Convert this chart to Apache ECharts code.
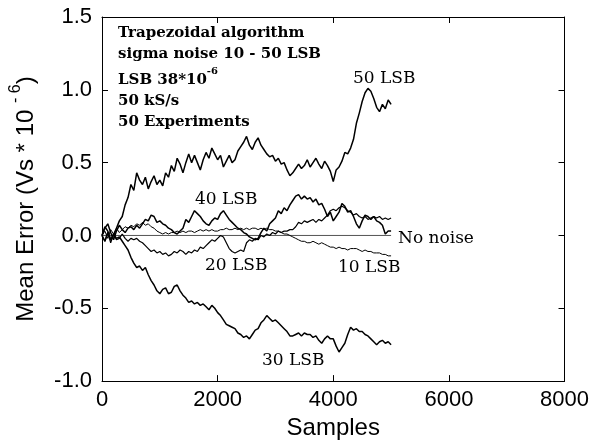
<!DOCTYPE html>
<html><head><meta charset="utf-8">
<script src="https://cdn.jsdelivr.net/npm/echarts@6/dist/echarts.min.js"></script>
<style>html,body{margin:0;padding:0;background:#fff}#c{width:592px;height:445px}</style>
</head><body><div id="c"></div>
<script>
const xTicks = [0, 2000, 4000, 6000, 8000];
const yTicks = [-1.0, -0.5, 0.0, 0.5, 1.0, 1.5];
// sample positions (every 50 samples, 0..5000)
const samples = Array.from({length: 101}, (_, i) => i * 50);

const lsb50 = [0.00,0.06,0.03,-0.03,0.00,0.05,0.10,0.13,0.21,0.26,
0.35,0.31,0.43,0.38,0.35,0.40,0.32,0.37,0.41,0.35,
0.38,0.34,0.43,0.40,0.48,0.44,0.53,0.49,0.43,0.50,
0.56,0.50,0.55,0.50,0.45,0.52,0.57,0.53,0.60,0.56,
0.52,0.55,0.47,0.51,0.55,0.50,0.52,0.58,0.61,0.64,
0.68,0.62,0.59,0.64,0.67,0.62,0.59,0.56,0.54,0.55,
0.51,0.53,0.49,0.50,0.45,0.41,0.43,0.46,0.49,0.46,
0.48,0.52,0.47,0.50,0.53,0.49,0.46,0.51,0.48,0.44,
0.37,0.45,0.47,0.51,0.57,0.56,0.60,0.66,0.77,0.84,
0.92,0.98,1.01,0.99,0.94,0.88,0.85,0.90,0.87,0.93,
0.90];

const lsb40 = [0.00,0.05,0.08,0.02,-0.03,0.03,0.07,0.04,0.02,0.05,
0.06,0.04,0.07,0.05,0.08,0.11,0.10,0.14,0.13,0.09,
0.10,0.08,0.07,0.05,0.04,0.02,0.01,0.03,0.05,0.11,
0.09,0.13,0.17,0.15,0.13,0.10,0.08,0.07,0.10,0.12,
0.11,0.15,0.17,0.14,0.11,0.09,0.07,0.05,0.04,0.02,
0.01,-0.01,-0.02,-0.03,-0.02,0.02,0.05,0.03,0.08,0.10,
0.12,0.17,0.15,0.19,0.17,0.21,0.24,0.27,0.28,0.25,
0.27,0.25,0.26,0.23,0.25,0.21,0.22,0.18,0.13,0.16,
0.10,0.13,0.16,0.22,0.20,0.16,0.17,0.13,0.08,0.05,
0.10,0.14,0.13,0.11,0.13,0.10,0.09,0.07,0.01,0.03,
0.03];

const lsb30 = [0.00,-0.04,0.02,-0.03,0.01,-0.02,-0.01,-0.04,-0.07,-0.10,
-0.15,-0.19,-0.22,-0.21,-0.24,-0.22,-0.27,-0.31,-0.34,-0.38,
-0.40,-0.37,-0.36,-0.40,-0.39,-0.35,-0.34,-0.38,-0.41,-0.43,
-0.46,-0.45,-0.47,-0.46,-0.48,-0.47,-0.49,-0.51,-0.48,-0.50,
-0.53,-0.55,-0.58,-0.61,-0.62,-0.63,-0.64,-0.67,-0.68,-0.70,
-0.69,-0.71,-0.68,-0.65,-0.64,-0.60,-0.58,-0.55,-0.57,-0.59,
-0.58,-0.60,-0.62,-0.64,-0.66,-0.69,-0.69,-0.68,-0.67,-0.69,
-0.67,-0.68,-0.68,-0.70,-0.69,-0.72,-0.74,-0.71,-0.69,-0.71,
-0.71,-0.76,-0.80,-0.77,-0.74,-0.68,-0.63,-0.65,-0.64,-0.66,
-0.66,-0.68,-0.69,-0.71,-0.73,-0.75,-0.73,-0.72,-0.74,-0.73,
-0.75];

const lsb20 = [0.00,-0.04,0.02,-0.05,0.01,-0.03,-0.02,0.01,-0.02,-0.04,
-0.02,-0.03,-0.02,-0.04,-0.05,-0.07,-0.09,-0.11,-0.10,-0.12,
-0.11,-0.13,-0.12,-0.14,-0.13,-0.11,-0.12,-0.10,-0.11,-0.13,
-0.11,-0.12,-0.10,-0.11,-0.08,-0.09,-0.07,-0.05,-0.03,-0.04,
-0.02,0.00,-0.01,-0.05,-0.09,-0.11,-0.12,-0.11,-0.10,-0.11,
-0.05,-0.03,-0.04,-0.02,-0.03,0.00,-0.01,0.01,0.00,0.02,
0.01,0.03,0.02,0.03,0.03,0.04,0.04,0.06,0.09,0.08,
0.10,0.09,0.10,0.11,0.09,0.11,0.10,0.12,0.14,0.17,
0.18,0.17,0.19,0.20,0.19,0.17,0.16,0.14,0.15,0.13,
0.12,0.13,0.11,0.12,0.13,0.12,0.13,0.11,0.12,0.11,
0.12];

const lsb10 = [0.00,0.03,-0.02,0.04,0.01,0.05,0.02,0.04,0.06,0.05,
0.07,0.06,0.08,0.07,0.09,0.07,0.08,0.06,0.05,0.03,
0.02,0.01,0.02,0.01,0.02,0.02,0.03,0.02,0.03,0.02,
0.03,0.03,0.02,0.03,0.04,0.03,0.04,0.03,0.04,0.03,
0.03,0.04,0.04,0.05,0.04,0.04,0.05,0.04,0.05,0.04,
0.05,0.04,0.05,0.05,0.04,0.05,0.04,0.05,0.04,0.04,
0.03,0.03,0.02,0.01,0.01,0.00,-0.01,-0.02,-0.03,-0.04,
-0.04,-0.05,-0.05,-0.04,-0.05,-0.06,-0.05,-0.06,-0.07,-0.08,
-0.08,-0.09,-0.08,-0.09,-0.09,-0.10,-0.09,-0.09,-0.09,-0.10,
-0.11,-0.10,-0.11,-0.11,-0.12,-0.12,-0.12,-0.13,-0.13,-0.14,
-0.14];

const noNoiseX = [0, 5000];
const noNoise = [0.00, 0.00];

const pairs = (xs, ys) => ys.map((v, i) => [xs[i], v]);

const chart = echarts.init(document.getElementById('c'), null, {renderer: 'canvas'});
const sans = 'Liberation Sans, Arial, sans-serif';

function line(name, xs, ys, color, width) {
  return {name, type: 'line', data: pairs(xs, ys), symbol: 'none', showSymbol: false,
    lineStyle: {color, width}, itemStyle: {color}, animation: false, z: 3};
}

const axisLineStyle = {show: true, onZero: false, lineStyle: {color: '#000', width: 1}};
const tickStyle = {show: true, inside: true, length: 6, lineStyle: {color: '#000', width: 1}};
function txt(x, y, text, font) {
  return {type: 'text', x, y, z: 10, style: {text, font, fill: '#000', verticalAlign: 'middle', align: 'left'}};
}

chart.setOption({
  backgroundColor: '#fff',
  animation: false,
  grid: {left: 97, right: 27, top: 17, bottom: 58, containLabel: false},
  xAxis: [{
    type: 'value', min: xTicks[0], max: xTicks[xTicks.length - 1], interval: xTicks[1] - xTicks[0],
    position: 'bottom',
    axisLine: axisLineStyle, splitLine: {show: false},
    axisTick: tickStyle,
    axisLabel: {color: '#000', fontFamily: sans, fontSize: 22, margin: 8, formatter: v => String(v)},
    name: 'Samples', nameLocation: 'middle', nameGap: 30,
    nameTextStyle: {color: '#000', fontFamily: sans, fontSize: 24}
  }, {
    type: 'value', min: xTicks[0], max: xTicks[xTicks.length - 1], interval: xTicks[1] - xTicks[0],
    position: 'top',
    axisLine: axisLineStyle, splitLine: {show: false},
    axisTick: tickStyle,
    axisLabel: {show: false}
  }],
  yAxis: [{
    type: 'value', min: yTicks[0], max: yTicks[yTicks.length - 1], interval: yTicks[1] - yTicks[0],
    position: 'left',
    axisLine: axisLineStyle, splitLine: {show: false},
    axisTick: tickStyle,
    axisLabel: {color: '#000', fontFamily: sans, fontSize: 22, margin: 10, formatter: v => v.toFixed(1)},
    name: '{a|Mean Error (Vs * 10 }{b|- 6}{a|)}', nameLocation: 'middle', nameGap: 64,
    nameTextStyle: {color: '#000', rich: {
      a: {fontFamily: sans, fontSize: 24, color: '#000', lineHeight: 30, verticalAlign: 'bottom'},
      b: {fontFamily: sans, fontSize: 16, color: '#000', lineHeight: 30, verticalAlign: 'top'}
    }}
  }, {
    type: 'value', min: yTicks[0], max: yTicks[yTicks.length - 1], interval: yTicks[1] - yTicks[0],
    position: 'right',
    axisLine: axisLineStyle, splitLine: {show: false},
    axisTick: tickStyle,
    axisLabel: {show: false}
  }],
  series: [
    line('No noise', noNoiseX, noNoise, '#555', 1),
    line('10 LSB', samples, lsb10, '#000', 1),
    line('20 LSB', samples, lsb20, '#000', 1.2),
    line('30 LSB', samples, lsb30, '#000', 1.5),
    line('40 LSB', samples, lsb40, '#000', 1.5),
    line('50 LSB', samples, lsb50, '#000', 1.5)
  ],
  graphic: [
    txt(118, 33, 'Trapezoidal algorithm', 'bold 15px DejaVu Serif'),
    txt(118, 54, 'sigma noise 10 - 50 LSB', 'bold 15px DejaVu Serif'),
    {type: 'text', x: 118, y: 77, z: 10, style: {
      text: '{a|LSB 38*10}{b|-6}', verticalAlign: 'middle', align: 'left',
      rich: {a: {font: 'bold 15px DejaVu Serif', fill: '#000', lineHeight: 22, verticalAlign: 'bottom'},
             b: {font: 'bold 10px DejaVu Serif', fill: '#000', lineHeight: 22, verticalAlign: 'top'}}}},
    txt(118, 101, '50 kS/s', 'bold 15px DejaVu Serif'),
    txt(118, 122, '50 Experiments', 'bold 15px DejaVu Serif'),
    txt(353, 79, '50 LSB', '17px DejaVu Serif'),
    txt(195, 200, '40 LSB', '17px DejaVu Serif'),
    txt(205, 266, '20 LSB', '17px DejaVu Serif'),
    txt(262, 361, '30 LSB', '17px DejaVu Serif'),
    txt(338, 268, '10 LSB', '17px DejaVu Serif'),
    txt(398, 239, 'No noise', '17px DejaVu Serif')
  ]
});
</script>
</body></html>
